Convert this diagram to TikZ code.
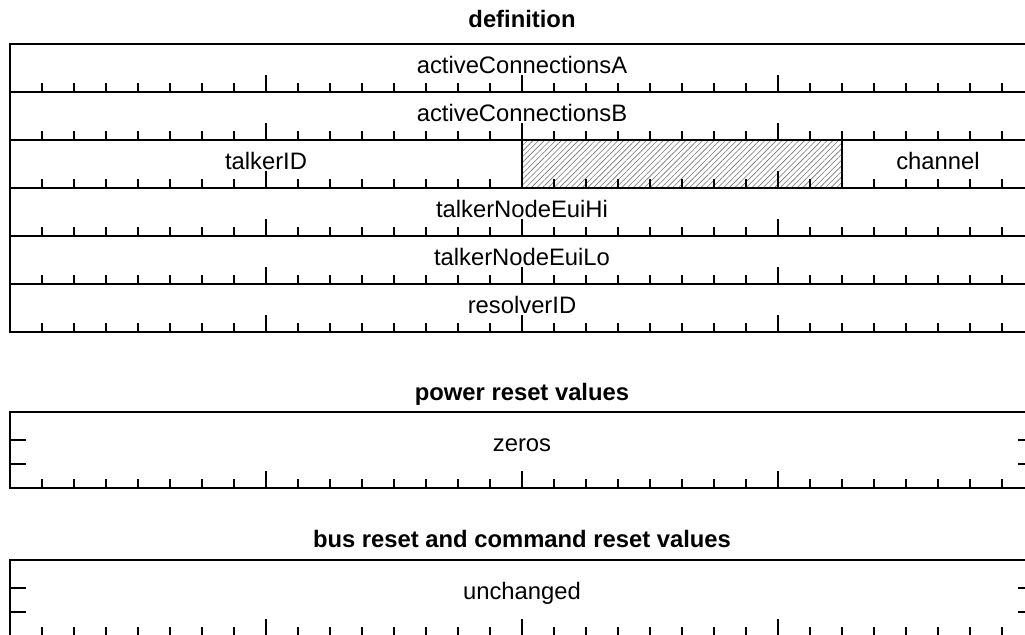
\documentclass[tikz,border=0pt]{standalone}
\usepackage{fontspec}
\setmainfont{Liberation Sans}
\usetikzlibrary{patterns.meta}
\begin{document}
\begin{tikzpicture}[x=0.5pt,y=-0.5pt,line width=1pt,
  lbl/.style={anchor=base,inner sep=0pt,font=\fontsize{11.9}{14}\selectfont},
  ttl/.style={anchor=base,inner sep=0pt,font=\fontsize{11.9}{14}\selectfont\bfseries},
  hatchfill/.style={pattern={Lines[angle=45,distance=2pt,line width=0.3pt]},pattern color=black!55},
  tickline/.style={line width=1pt}]
\useasboundingbox (0,0) rectangle (1025,634);
% hatched reserved field
\fill[hatchfill] (522,139.5) rectangle (842,187.5);
% definition register
\draw (10,43.5) rectangle (1034,331.5);
\foreach \y in {91.5,139.5,187.5,235.5,283.5} \draw (10,\y) -- (1034,\y);
\draw (522,139.5) -- (522,187.5);
\draw (842,139.5) -- (842,187.5);
% reset value boxes
\draw (10,412) rectangle (1034,488);
\draw (10,560) rectangle (1034,636);
\foreach \t in {440,463.5,588,611.5} {
  \draw[tickline] (10,\t) -- (26,\t);
  \draw[tickline] (1018,\t) -- (1034,\t);
}
% bit ticks
\foreach \b in {91.5,139.5,187.5,235.5,283.5,331.5,488,636} {
  \foreach \k in {1,...,31} {
    \pgfmathsetmacro\len{ifthenelse(mod(\k,8)==0,17,9)}
    \draw[tickline] (10+32*\k,\b) -- ++(0,-\len);
  }
}
% texts
\node[ttl] (tdef) at (522,27) {definition};
\node[lbl] (fA) at (522,73.5) {activeConnectionsA};
\node[lbl] (fB) at (522,121.5) {activeConnectionsB};
\node[lbl] (ftalker) at (266,169.5) {talkerID};
\node[lbl] (fchan) at (938,169.5) {channel};
\node[lbl] (fhi) at (522,217.5) {talkerNodeEuiHi};
\node[lbl] (flo) at (522,265.5) {talkerNodeEuiLo};
\node[lbl] (fres) at (522,313.5) {resolverID};
\node[ttl] (tpow) at (522,400) {power reset values};
\node[lbl] (zeros) at (522,451) {zeros};
\node[ttl] (tbus) at (522,547) {bus reset and command reset values};
\node[lbl] (unch) at (522,599) {unchanged};
\end{tikzpicture}
\end{document}
